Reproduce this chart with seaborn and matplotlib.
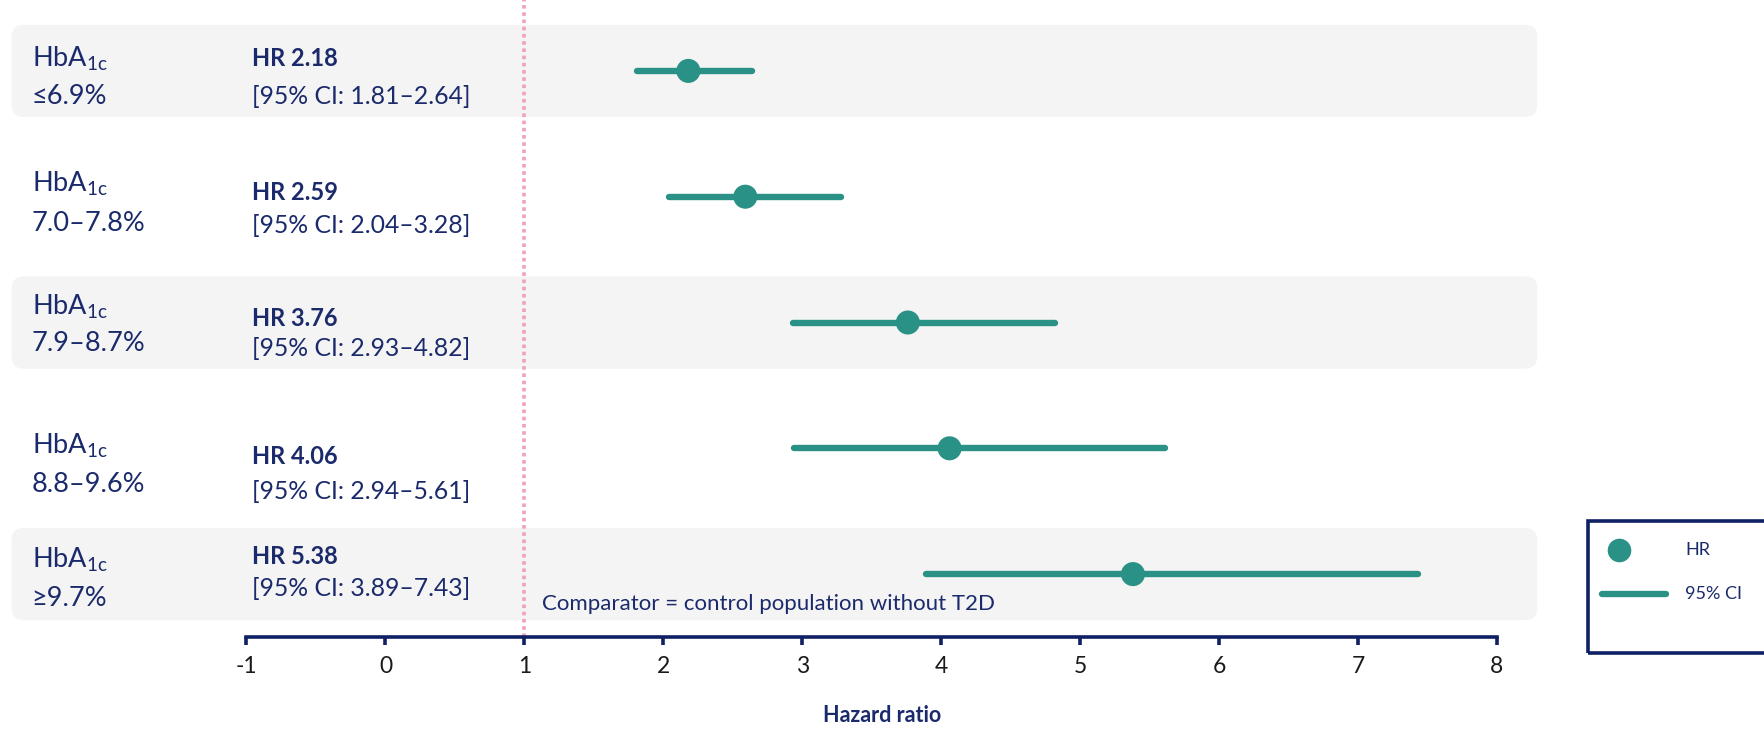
import numpy as np
import pandas as pd
import matplotlib
matplotlib.use("Agg")
import matplotlib.pyplot as plt
from matplotlib.patches import FancyBboxPatch, Rectangle
from matplotlib.lines import Line2D
import seaborn as sns

# data
groups = ["≤6.9%", "7.0–7.8%", "7.9–8.7%", "8.8–9.6%", "≥9.7%"]
hr = [2.18, 2.59, 3.76, 4.06, 5.38]
ci_lo = [1.81, 2.04, 2.93, 2.94, 3.89]
ci_hi = [2.64, 3.28, 4.82, 5.61, 7.43]
ticks = [-1, 0, 1, 2, 3, 4, 5, 6, 7, 8]

# text offsets per row (layout only)
lab_dy = [(-0.10, 0.20), (-0.10, 0.21), (-0.125, 0.17), (-0.02, 0.29), (-0.115, 0.19)]
hr_dy = [(-0.10, 0.20), (-0.035, 0.225), (-0.035, 0.205), (0.065, 0.34), (-0.14, 0.115)]

NAVY = "#1b2a6b"
AXIS = "#0f2064"
TEAL = "#2a9187"
BAND = "#f4f4f4"
PINK = "#f2a0bb"

sns.set_style("white")
plt.rcParams["font.family"] = ["Lato", "DejaVu Sans"]
plt.rcParams["mathtext.fontset"] = "custom"
plt.rcParams["mathtext.rm"] = "Lato"

df = pd.DataFrame({"group": groups, "hr": hr, "lo": ci_lo, "hi": ci_hi,
                   "row": np.arange(len(groups))})

W, H = 1765, 731
fig = plt.figure(figsize=(W / 100, H / 100), dpi=100)
ax = fig.add_axes([0, 1 - 637 / H, 1, 637 / H])
ppu = (1497 - 246.5) / 9
ax.set_xlim(-1 - 246.5 / ppu, 8 + (W - 1497) / ppu)
ax.set_ylim(4.5, -0.5636)

# bands
for r in [0, 2, 4]:
    ax.add_patch(FancyBboxPatch((-2.69, r - 0.367), 10.98, 0.734,
                                boxstyle="round,pad=0,rounding_size=0.09",
                                mutation_aspect=1.1, fc=BAND, ec="none", zorder=0))

ax.axvline(1, color=PINK, lw=2.6, ls=(0, (1, 1)), zorder=1)

ax.hlines(df["row"], df["lo"], df["hi"], color=TEAL, lw=4.6, capstyle="round", zorder=3)
sns.scatterplot(data=df, x="hr", y="row", ax=ax, s=300, color=TEAL,
                edgecolor="none", zorder=4, legend=False)

for i, row in df.iterrows():
    r = row["row"]
    ax.text(-2.547, r + lab_dy[i][0], r"HbA$_{\mathregular{1c}}$", fontsize=19.5,
            color=NAVY, va="center")
    ax.text(-2.547, r + lab_dy[i][1], row["group"], fontsize=19.5, color=NAVY, va="center")
    ax.text(-0.96, r + hr_dy[i][0], f"HR {row['hr']:.2f}", fontsize=17, color=NAVY,
            va="center", fontweight="bold")
    ax.text(-0.96, r + hr_dy[i][1], f"[95% CI: {row['lo']:.2f}–{row['hi']:.2f}]",
            fontsize=17.8, color=NAVY, va="center")

ax.text(1.13, 4.24, "Comparator = control population without T2D", fontsize=16,
        color=NAVY, va="center")

for s in ["top", "left", "right"]:
    ax.spines[s].set_visible(False)
ax.spines["bottom"].set_bounds(-1, 8)
ax.spines["bottom"].set_color(AXIS)
ax.spines["bottom"].set_linewidth(2.6)
ax.set_xticks(ticks)
ax.set_xticklabels([str(t) for t in ticks])
ax.tick_params(axis="x", bottom=True, direction="out", length=6, width=2.6, color=AXIS,
               labelsize=16.5, labelcolor="#1a1a1a", pad=8)
ax.set_yticks([])
ax.set_xlabel("Hazard ratio", fontsize=15.5, fontweight="bold", color=NAVY, labelpad=20)
ax.set_ylabel("")

# legend box
fig.patches.append(Rectangle((1588 / W, 1 - 653 / H), 200 / W, 132 / H,
                             transform=fig.transFigure, fill=False, ec=AXIS, lw=2.6))
fig.lines.append(Line2D([1619 / W], [1 - 550 / H], marker="o", ms=17, color=TEAL,
                        mec="none", transform=fig.transFigure))
fig.lines.append(Line2D([1602 / W, 1666 / W], [1 - 594 / H, 1 - 594 / H], lw=4.6,
                        color=TEAL, solid_capstyle="round", transform=fig.transFigure))
fig.text(1685 / W, 1 - 550 / H, "HR", fontsize=13, color=NAVY, va="center")
fig.text(1685 / W, 1 - 594 / H, "95% CI", fontsize=13, color=NAVY, va="center")

fig.savefig("out.png", dpi=100)
